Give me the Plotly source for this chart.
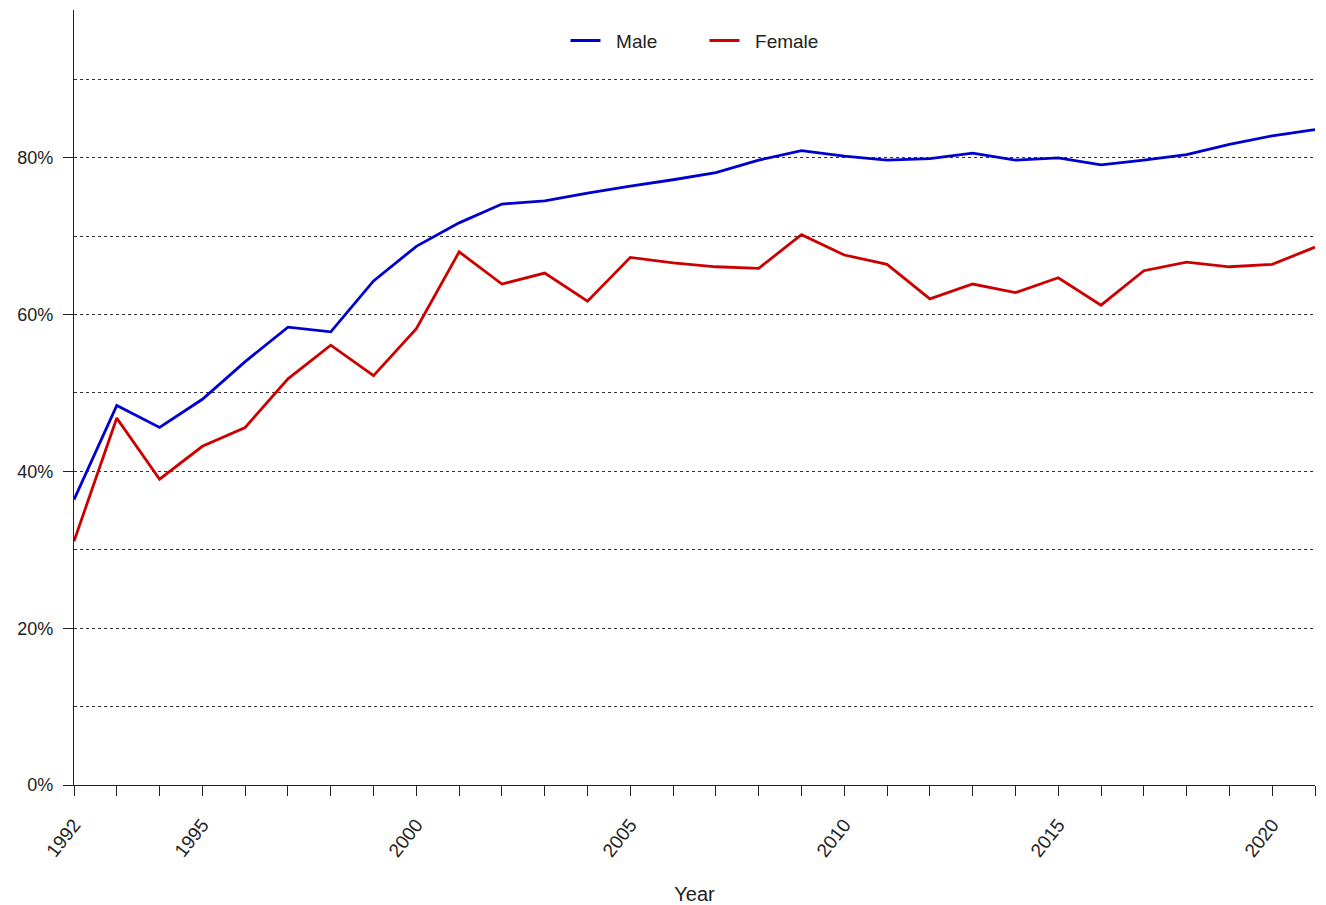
import plotly.graph_objects as go

# Annual share (%) by sex, 1992-2021
years = list(range(1992, 2022))
male = [36.4, 48.4, 45.6, 49.2, 54.0, 58.4, 57.8, 64.3, 68.7, 71.7,
        74.1, 74.5, 75.5, 76.4, 77.2, 78.1, 79.7, 80.9, 80.2, 79.7,
        79.9, 80.6, 79.7, 80.0, 79.1, 79.7, 80.4, 81.7, 82.8, 83.6]
female = [31.1, 46.8, 39.0, 43.2, 45.6, 51.8, 56.1, 52.2, 58.2, 68.0,
          63.9, 65.3, 61.7, 67.3, 66.6, 66.1, 65.9, 70.2, 67.6, 66.4,
          62.0, 63.9, 62.8, 64.7, 61.2, 65.6, 66.7, 66.1, 66.4, 68.6]
labelled_years = [1992, 1995, 2000, 2005, 2010, 2015, 2020]
year_text = [str(y) if y in labelled_years else "" for y in years]

FONT = "Liberation Sans, Arial, sans-serif"
INK = "#222222"
NB = "\u00a0"  # non-breaking space keeps legend spacing intact

fig = go.Figure()
fig.add_trace(go.Scatter(x=years, y=male, mode="lines",
                         name=NB * 2 + "Male" + NB * 8,
                         line=dict(color="#0000CD", width=2.8)))
fig.add_trace(go.Scatter(x=years, y=female, mode="lines",
                         name=NB * 2 + "Female",
                         line=dict(color="#CD0000", width=2.8)))

fig.update_layout(
    width=1326, height=905,
    margin=dict(l=74, r=11, t=10, b=120),
    paper_bgcolor="white", plot_bgcolor="white",
    font=dict(family=FONT, size=18, color=INK),
    showlegend=True,
    legend=dict(orientation="h", x=0.5, xanchor="center", y=0.985, yanchor="top",
                bgcolor="rgba(0,0,0,0)", font=dict(size=19, color=INK),
                itemwidth=30, tracegroupgap=0),
)

fig.update_xaxes(
    range=[1992, 2021], tickmode="array", tickvals=years, ticktext=year_text,
    tickangle=-52, tickfont=dict(size=19), ticklabelstandoff=10,
    ticks="outside", ticklen=10, tickwidth=1.3, tickcolor=INK,
    showline=True, linecolor=INK, linewidth=1.3, showgrid=False, zeroline=False,
    automargin=False,
    title=dict(text="Year", font=dict(size=20, color=INK), standoff=26),
)

fig.update_yaxes(
    range=[0, 98.85], tickmode="linear", tick0=0, dtick=20, ticksuffix="%",
    tickfont=dict(size=18), ticklabelstandoff=6,
    ticks="outside", ticklen=10, tickwidth=1.3, tickcolor=INK,
    showline=True, linecolor=INK, linewidth=1.3, zeroline=False, automargin=False,
    showgrid=True, gridcolor="#333333", gridwidth=1, griddash="dot",
    minor=dict(dtick=10, showgrid=True, gridcolor="#333333", gridwidth=1,
               griddash="dot", ticks=""),
)

fig.write_html("out.html")
